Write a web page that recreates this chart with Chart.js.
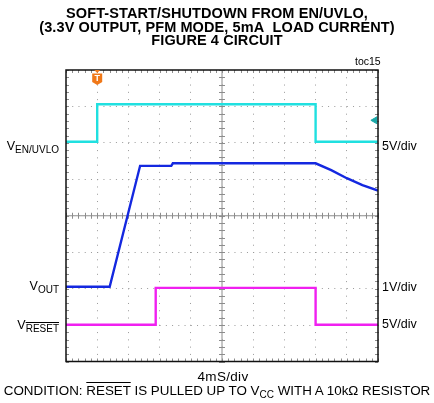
<!DOCTYPE html>
<html>
<head>
<meta charset="utf-8">
<script src="https://cdn.jsdelivr.net/npm/chart.js@4/dist/chart.umd.min.js"></script>
<style>
  html, body { margin: 0; padding: 0; background: #fff; }
  #wrap { position: relative; width: 434px; height: 403px; font-family: "Liberation Sans", Arial, sans-serif; color: #000; }
  #c { position: absolute; left: 0; top: 0; }
  .title { position: absolute; left: 0; top: 7px; width: 434px; text-align: center; font-weight: bold; font-size: 14.5px; line-height: 13.5px; letter-spacing: 0.1px; }
  .txt { position: absolute; font-size: 12.5px; white-space: nowrap; line-height: 1; }
  .txt sub { font-size: 10px; vertical-align: -3px; }
  .ov { text-decoration: overline; }
  .left { right: 375px; text-align: right; }
  .right { left: 382px; }
</style>
</head>
<body>
<div id="wrap">
  <canvas id="c" width="434" height="403"></canvas>
  <div class="title">SOFT-START/SHUTDOWN FROM EN/UVLO,<br>(3.3V OUTPUT, PFM MODE, 5mA&nbsp; LOAD CURRENT)<br>FIGURE 4 CIRCUIT</div>
  <div class="txt" style="left:355px; top:56px; font-size:10.5px;">toc15</div>
  <div class="txt left" style="top:140px;">V<sub>EN/UVLO</sub></div>
  <div class="txt left" style="top:280px;">V<sub>OUT</sub></div>
  <div class="txt left" style="top:319px;">V<sub class="ov">RESET</sub></div>
  <div class="txt right" style="top:140px;">5V/div</div>
  <div class="txt right" style="top:281px;">1V/div</div>
  <div class="txt right" style="top:318px;">5V/div</div>
  <div class="txt" style="left:0; width:446px; text-align:center; top:370px; font-size:13.5px; letter-spacing:0.3px;">4mS/div</div>
  <div class="txt" style="left:0; width:434px; text-align:center; top:384px; font-size:13.4px;">CONDITION: <span class="ov">RESET</span> IS PULLED UP TO V<sub>CC</sub> WITH A 10kΩ RESISTOR</div>
</div>
<script>
// time in ms (4ms/div, 10 div), levels in screen divisions (0 = bottom, 8 = top)
const timeMin = 0;
const timeMax = 40;
const divMin = 0;
const divMax = 8;

const enTime = [0, 4, 4, 32, 32, 40];
const enLevel = [6.03, 6.03, 7.06, 7.06, 6.03, 6.03];

const outTime = [0, 5.6, 9.5, 13.5, 13.7, 32, 34, 36, 38, 40];
const outLevel = [2.05, 2.05, 5.37, 5.37, 5.44, 5.44, 5.25, 5.03, 4.84, 4.69];

const resetTime = [0, 11.5, 11.5, 32, 32, 40];
const resetLevel = [1.01, 1.01, 2.02, 2.02, 1.01, 1.01];

const triggerTime = 4;
const triggerLevelMarker = [39.6, 6.62];

const pts = (xs, ys) => xs.map((t, i) => ({ x: t, y: ys[i] }));

const scopeFrame = {
  id: 'scopeFrame',
  beforeDatasetsDraw(chart) {
    const { ctx, chartArea: a, scales: { x, y } } = chart;
    const xc = x.getPixelForValue((timeMin + timeMax) / 2);
    const yc = y.getPixelForValue((divMin + divMax) / 2);
    ctx.save();
    ctx.strokeStyle = '#8c8c8c';
    ctx.lineWidth = 1;
    ctx.beginPath();
    ctx.moveTo(a.left, yc); ctx.lineTo(a.right, yc);
    ctx.moveTo(xc, a.top); ctx.lineTo(xc, a.bottom);
    for (let t = timeMin; t <= timeMax + 0.01; t += 0.8) {
      const px = Math.round(x.getPixelForValue(t)) + 0.5;
      ctx.moveTo(px, yc - 3); ctx.lineTo(px, yc + 3);
      ctx.moveTo(px, a.top); ctx.lineTo(px, a.top + 3);
      ctx.moveTo(px, a.bottom); ctx.lineTo(px, a.bottom - 3);
    }
    for (let v = divMin; v <= divMax + 0.01; v += 0.2) {
      const py = Math.round(y.getPixelForValue(v)) + 0.5;
      ctx.moveTo(xc - 3, py); ctx.lineTo(xc + 3, py);
      ctx.moveTo(a.left, py); ctx.lineTo(a.left + 3, py);
      ctx.moveTo(a.right, py); ctx.lineTo(a.right - 3, py);
    }
    ctx.stroke();
    ctx.restore();
  },
  afterDatasetsDraw(chart) {
    const { ctx, chartArea: a, scales: { x } } = chart;
    ctx.save();
    ctx.strokeStyle = '#111';
    ctx.lineWidth = 1.5;
    ctx.strokeRect(a.left, a.top, a.right - a.left, a.bottom - a.top);
    // trigger marker
    const tx = x.getPixelForValue(triggerTime);
    ctx.fillStyle = '#f07818';
    ctx.beginPath();
    ctx.moveTo(tx - 3, a.top); ctx.lineTo(tx + 3, a.top); ctx.lineTo(tx, a.top + 3);
    ctx.fill();
    ctx.beginPath();
    ctx.moveTo(tx - 5, a.top + 3.5);
    ctx.lineTo(tx + 5, a.top + 3.5);
    ctx.lineTo(tx + 5, a.top + 12);
    ctx.lineTo(tx, a.top + 15);
    ctx.lineTo(tx - 5, a.top + 12);
    ctx.closePath();
    ctx.fill();
    ctx.fillStyle = '#fff';
    ctx.font = 'bold 9px "Liberation Sans", Arial, sans-serif';
    ctx.textAlign = 'center';
    ctx.textBaseline = 'middle';
    ctx.fillText('T', tx, a.top + 9);
    ctx.restore();
  }
};

new Chart(document.getElementById('c'), {
  type: 'scatter',
  data: {
    datasets: [
      { label: 'EN', data: pts(enTime, enLevel), showLine: true, borderColor: '#20e0e0', borderWidth: 2.4, pointRadius: 0 },
      { label: 'OUT', data: pts(outTime, outLevel), showLine: true, borderColor: '#1428e0', borderWidth: 2.4, pointRadius: 0, tension: 0 },
      { label: 'RESET', data: pts(resetTime, resetLevel), showLine: true, borderColor: '#f020f0', borderWidth: 2.4, pointRadius: 0 },
      { label: 'trig', data: [{ x: triggerLevelMarker[0], y: triggerLevelMarker[1] }], pointStyle: 'triangle', rotation: -90, pointRadius: 4, backgroundColor: '#1aa8a8', borderColor: '#1aa8a8', clip: false }
    ]
  },
  options: {
    responsive: false,
    animation: false,
    layout: { padding: { left: 66, right: 56, top: 70, bottom: 41.5 } },
    plugins: { legend: { display: false }, tooltip: { enabled: false } },
    scales: {
      x: {
        type: 'linear', min: timeMin, max: timeMax,
        ticks: { display: false, stepSize: 4 },
        grid: { color: '#9a9a9a', lineWidth: 1, drawTicks: false },
        border: { display: false, dash: [1, 6.28] }
      },
      y: {
        type: 'linear', min: divMin, max: divMax,
        ticks: { display: false, stepSize: 1 },
        grid: { color: '#9a9a9a', lineWidth: 1, drawTicks: false },
        border: { display: false, dash: [1, 5.24] }
      }
    }
  },
  plugins: [scopeFrame]
});
</script>
</body>
</html>
